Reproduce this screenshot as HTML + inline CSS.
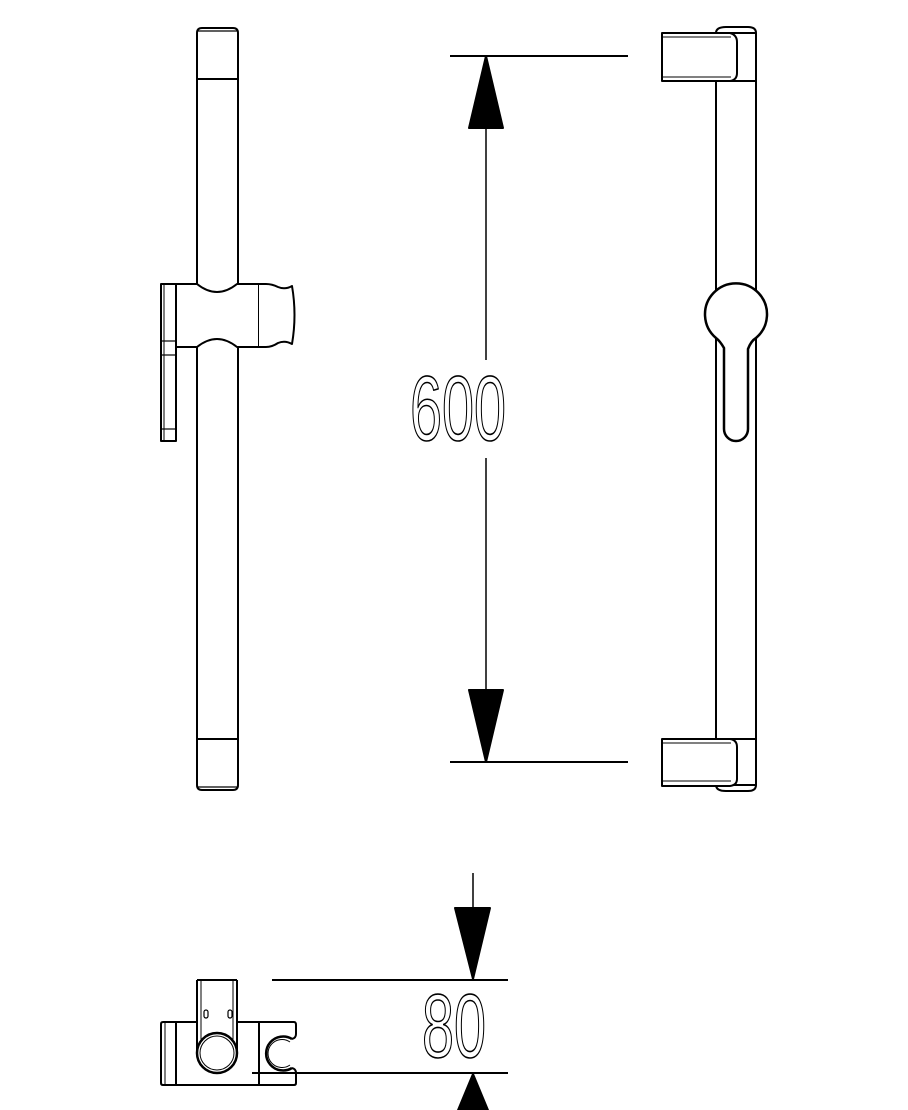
<!DOCTYPE html>
<html><head><meta charset="utf-8"><style>html,body{margin:0;padding:0;background:#fff}svg{display:block}</style></head>
<body>
<svg width="908" height="1110" viewBox="0 0 908 1110" xmlns="http://www.w3.org/2000/svg">
<g fill="none" stroke="#000" stroke-width="2" stroke-linejoin="round">
<path d="M197,33 Q197,28 202,28 L233,28 Q238,28 238,33 L238,785 Q238,790 233,790 L202,790 Q197,790 197,785 Z" fill="#fff"/>
<line x1="198" y1="31" x2="237" y2="31" stroke-width="1.2"/>
<line x1="197" y1="79" x2="238" y2="79"/>
<line x1="197" y1="739" x2="238" y2="739"/>
<line x1="198" y1="787" x2="237" y2="787" stroke-width="1.2"/>
<rect x="161" y="284" width="15" height="157" fill="#fff"/>
<line x1="164" y1="284" x2="164" y2="441" stroke-width="1"/>
<line x1="161" y1="341" x2="176" y2="341" stroke-width="1.2"/>
<line x1="161" y1="355" x2="176" y2="355" stroke-width="1.2"/>
<line x1="161" y1="429" x2="176" y2="429" stroke-width="1.2"/>
<path d="M176,284 L197,284 Q217,300 237,284 L259,284 L259,347 L237,347 Q217,331 197,347 L176,347 Z" fill="#fff"/>
<path d="M259,284 L266,284 Q272,284 278,287 Q285,290 292,286 Q297,315 292,344 Q285,340 278,343 Q272,347 266,347 L259,347" fill="#fff"/>
<line x1="450" y1="56" x2="628" y2="56"/>
<line x1="450" y1="762" x2="628" y2="762"/>
<line x1="486" y1="56" x2="486" y2="360" stroke-width="1.5"/>
<line x1="486" y1="458" x2="486" y2="762" stroke-width="1.5"/>
<polygon points="486,56 469,128 503,128" fill="#000"/>
<polygon points="486,762 469,690 503,690" fill="#000"/>
<text x="410" y="440" font-family="Liberation Sans, sans-serif" font-size="92" textLength="96" lengthAdjust="spacingAndGlyphs" stroke-width="1.6" fill="none">600</text>
<path d="M716,33 L716,785 M756,33 L756,785"/>
<path d="M716,33 Q716,27 726,27 L748,27 Q756,27 756,33 Z" fill="#fff"/>
<path d="M716,785 Q716,791 726,791 L748,791 Q756,791 756,785 Z" fill="#fff"/>
<path d="M662,33 L730,33 Q737,35 737,42 L737,73 Q737,80 730,81 L662,81 Z" fill="#fff"/>
<line x1="662" y1="37" x2="731" y2="37" stroke-width="1"/>
<line x1="662" y1="77" x2="731" y2="77" stroke-width="1"/>
<path d="M662,739 L730,739 Q737,740 737,747 L737,779 Q737,785 730,786 L662,786 Z" fill="#fff"/>
<line x1="662" y1="743" x2="731" y2="743" stroke-width="1"/>
<line x1="662" y1="781" x2="731" y2="781" stroke-width="1"/>
<line x1="716" y1="81" x2="756" y2="81"/>
<line x1="716" y1="739" x2="756" y2="739"/>
<path d="M724,348 Q720,341 716,338 A31,31 0 1 1 756,338 Q751,341 748,349 L748,429 A12,12 0 0 1 724,429 Z" fill="#fff" stroke-width="2.5"/>
<line x1="473" y1="873" x2="473" y2="910" stroke-width="1.5"/>
<polygon points="473,979 455,908 490,908" fill="#000"/>
<polygon points="473,1074 456,1115 490,1115" fill="#000"/>
<line x1="272" y1="980" x2="508" y2="980"/>
<line x1="252" y1="1073" x2="508" y2="1073"/>
<text x="422" y="1057" font-family="Liberation Sans, sans-serif" font-size="90" textLength="64" lengthAdjust="spacingAndGlyphs" stroke-width="1.6" fill="none">80</text>
<path d="M163,1022 L197,1022 M237,1022 L294,1022 Q296,1022 296,1025 L296,1034 Q296,1038 292,1039 M292,1068 Q296,1069 296,1073 L296,1083 Q296,1085 294,1085 L163,1085 Q161,1085 161,1083 L161,1024 Q161,1022 163,1022"/>
<line x1="165" y1="1022" x2="165" y2="1085" stroke-width="1"/>
<line x1="176" y1="1022" x2="176" y2="1085"/>
<line x1="259" y1="1022" x2="259" y2="1085"/>
<path d="M197,980 L237,980 M197,980 L197,1053 M237,980 L237,1053"/>
<line x1="201" y1="980" x2="201" y2="1040" stroke-width="1"/>
<line x1="233" y1="980" x2="233" y2="1040" stroke-width="1"/>
<rect x="204" y="1010" width="4" height="8" rx="2" stroke-width="1.2"/>
<rect x="228" y="1010" width="4" height="8" rx="2" stroke-width="1.2"/>
<circle cx="217" cy="1053" r="20" fill="#fff" stroke-width="2.5"/>
<circle cx="217" cy="1053" r="17" stroke-width="1"/>
<path d="M292,1039 A17,17 0 1 0 292,1068" stroke-width="2.5"/>
<path d="M290,1042 A14,14 0 1 0 290,1065" stroke-width="1"/>
</g>
</svg>
</body></html>
